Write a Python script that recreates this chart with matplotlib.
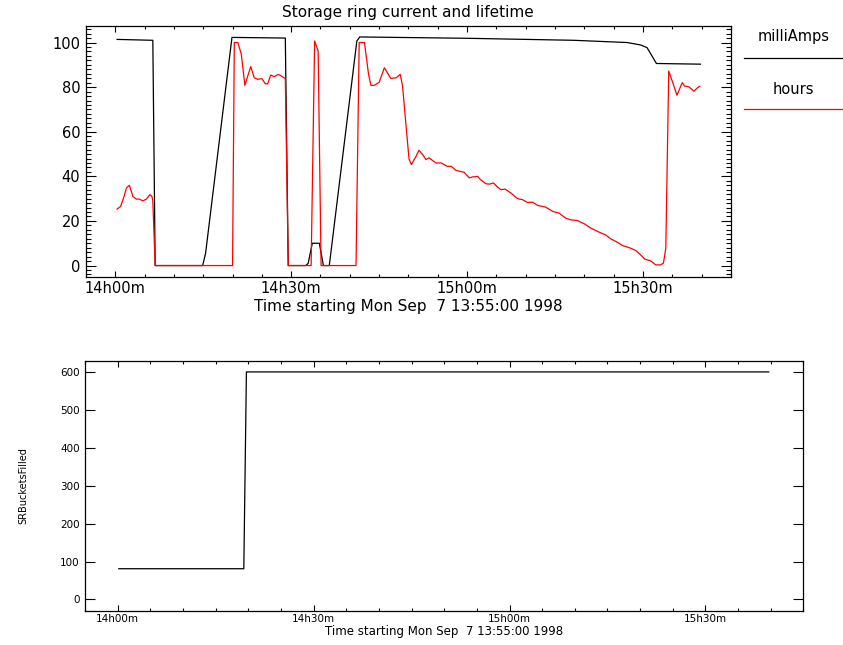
import matplotlib
matplotlib.use("Agg")
import matplotlib.pyplot as plt
from matplotlib.lines import Line2D
from matplotlib.ticker import MultipleLocator, FixedLocator

# temps en minutes depuis 14h00
courant_t = [0.3, 6.4, 6.8, 14.9, 15.4, 19.9, 29.0, 29.5, 32.5, 32.9, 33.6, 34.8, 35.5,
             36.5, 41.2, 41.7, 60.0, 78.2, 87.3, 89.6, 90.7, 92.3, 99.8]
courant_mA = [101.4, 101.0, 0, 0, 5.5, 102.3, 102.0, 0, 0, 1.0, 10, 10, 0,
              0, 100.7, 102.5, 101.9, 101.0, 100.0, 98.9, 97.7, 90.6, 90.3]

vie_t = [0.3, 0.9, 1.5, 1.9, 2.4, 3.0, 3.6, 4.1, 4.7, 5.3, 5.9, 6.25, 6.4, 6.8,
         20.0, 20.3, 20.9, 21.5, 22.1, 22.5, 23.1, 23.7, 24.3, 25.0, 25.6, 26.0, 26.5,
         27.1, 27.8, 28.4, 29.0, 29.5,
         33.4, 34.0, 34.6, 35.1,
         41.06, 41.6, 42.5, 43.2, 43.6, 44.2, 45.0, 45.9, 47.0, 47.9, 48.6, 49.0,
         49.6, 50.1, 50.5, 51.3, 51.8, 52.4, 53.0, 53.5, 54.7, 55.6, 56.6, 57.3,
         58.1, 59.5, 60.4, 60.9, 61.8, 62.3, 63.2, 63.8, 64.5, 65.2, 65.8, 66.5,
         67.5, 68.6, 69.5, 70.3, 71.2, 72.0, 73.4, 74.6, 75.7, 76.8, 77.7, 78.8,
         80.0, 81.1, 82.5, 83.6, 84.5, 85.6, 86.5, 87.9, 88.8, 89.6, 90.3, 91.3,
         92.2, 93.0, 93.5, 93.9, 94.4, 95.0, 95.8, 96.7, 97.1, 97.8, 98.7, 99.3, 99.7]
vie_h = [25.3, 26.5, 31.0, 34.8, 36.0, 31.0, 29.8, 29.8, 29.0, 29.8, 31.8, 31.0, 29.0, 0,
         0, 100, 100, 94.7, 80.8, 84.2, 89.2, 84.2, 83.5, 83.8, 81.5, 81.5, 85.4,
         84.7, 85.7, 84.9, 83.8, 0,
         0, 100.7, 96.2, 0,
         0, 100, 100, 85.7, 80.8, 80.8, 82.2, 88.7, 83.9, 84.2, 85.7, 80.5,
         62.5, 47.8, 45.3, 49.0, 51.7, 49.8, 47.5, 48.3, 46.0, 46.0, 44.5, 44.5,
         42.7, 41.8, 39.3, 39.7, 40.0, 38.5, 36.7, 36.5, 37.0, 35.2, 34.0, 34.3,
         32.5, 30.0, 29.5, 28.3, 28.4, 27.0, 26.2, 24.3, 23.5, 21.3, 20.5, 20.2,
         18.7, 16.8, 15.0, 13.8, 12.0, 10.5, 9.0, 7.8, 6.7, 4.8, 2.9, 2.1,
         0.3, 0.3, 1.1, 7.8, 87.2, 82.7, 76.4, 82.0, 80.5, 80.2, 78.2, 79.7, 80.4]

buckets_t = [0.15, 19.3, 19.7, 99.7]
buckets_n = [81, 81, 600, 600]

heures_pos = [0, 30, 60, 90]
heures_txt = ["14h00m", "14h30m", "15h00m", "15h30m"]
titre_x = "Time starting Mon Sep  7 13:55:00 1998"

plt.rcParams['font.family'] = 'DejaVu Sans'
fig = plt.figure(figsize=(8.43, 6.45), dpi=100)

# graphique du haut
ax1 = fig.add_axes([0.102, 0.571, 0.765, 0.389])
ax1.plot(courant_t, courant_mA, color="black", lw=0.9)
ax1.plot(vie_t, vie_h, color="red", lw=0.9)
ax1.set_xlim(-5, 105)
ax1.set_ylim(-5, 107.5)
ax1.xaxis.set_major_locator(FixedLocator(heures_pos))
ax1.set_xticklabels(heures_txt)
ax1.xaxis.set_minor_locator(MultipleLocator(5))
ax1.yaxis.set_major_locator(MultipleLocator(20))
ax1.yaxis.set_minor_locator(MultipleLocator(2))
ax1.tick_params(which="both", direction="in", top=True, right=True, labelsize=10.5, width=0.8)
ax1.tick_params(axis="y", which="major", length=7, pad=4)
ax1.tick_params(axis="y", which="minor", length=3.5)
ax1.tick_params(axis="x", which="major", length=4.3, pad=3)
ax1.tick_params(axis="x", which="minor", length=2)
ax1.set_xlabel(titre_x, fontsize=11, labelpad=2)
fig.text(0.484, 0.981, "Storage ring current and lifetime", fontsize=11, ha="center", va="center")

# légende à droite
fig.text(0.941, 0.943, "milliAmps", fontsize=10.5, ha="center", va="center")
fig.add_artist(Line2D([0.883, 1.0], [0.910, 0.910], color="black", lw=0.9))
fig.text(0.941, 0.862, "hours", fontsize=10.5, ha="center", va="center")
fig.add_artist(Line2D([0.883, 1.0], [0.831, 0.831], color="red", lw=0.9))

# graphique du bas
ax2 = fig.add_axes([0.101, 0.053, 0.852, 0.388])
ax2.plot(buckets_t, buckets_n, color="black", lw=0.9)
ax2.set_xlim(-5, 105)
ax2.set_ylim(-30, 630)
ax2.xaxis.set_major_locator(FixedLocator(heures_pos))
ax2.set_xticklabels(heures_txt)
ax2.xaxis.set_minor_locator(MultipleLocator(5))
ax2.yaxis.set_major_locator(MultipleLocator(100))
ax2.tick_params(which="both", direction="in", top=True, right=True, labelsize=7.5, width=0.8)
ax2.tick_params(axis="y", which="major", length=7, pad=4)
ax2.tick_params(axis="x", which="major", length=4.3, pad=2)
ax2.tick_params(axis="x", which="minor", length=2)
ax2.set_xlabel(titre_x, fontsize=8.5, labelpad=1)
ax2.set_ylabel("SRBucketsFilled", fontsize=7, labelpad=23)

for a in (ax1, ax2):
    for s in a.spines.values():
        s.set_linewidth(0.9)

fig.savefig("out.png", dpi=100)
